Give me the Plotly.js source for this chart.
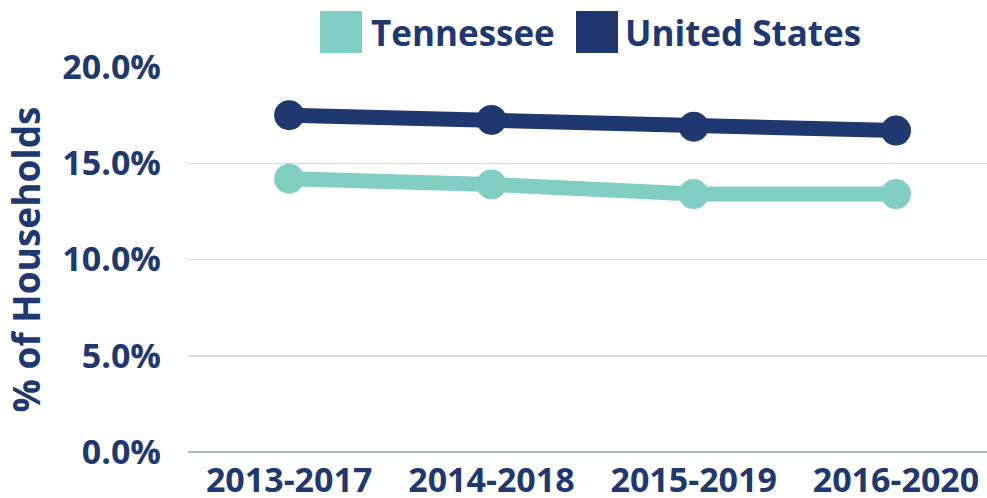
<!DOCTYPE html>
<html>
<head>
<meta charset="utf-8">
<script src="https://cdn.plot.ly/plotly-3.0.1.min.js"></script>
<style>html,body{margin:0;padding:0;background:#fff;}#chart{width:987px;height:498px;}</style>
</head>
<body>
<div id="chart"></div>
<script>
const periods = ["2013-2017", "2014-2018", "2015-2019", "2016-2020"];
const tennessee = [14.2, 13.9, 13.4, 13.4];
const unitedStates = [17.5, 17.25, 16.9, 16.7];
const yTickVals = [0, 5, 10, 15, 20];
const yTickText = ["0.0%", "5.0%", "10.0%", "15.0%", "20.0%"];
const seriesNames = ["Tennessee", "United States"];

const navy = "#1F386F";
const teal = "#80CFC2";
const font = "'Open Sans', sans-serif";

const traces = [
  {x: periods, y: tennessee, name: seriesNames[0], type: "scatter", mode: "lines+markers",
   line: {color: teal, width: 15}, marker: {color: teal, size: 30}, showlegend: false},
  {x: periods, y: unitedStates, name: seriesNames[1], type: "scatter", mode: "lines+markers",
   line: {color: navy, width: 15}, marker: {color: navy, size: 30}, showlegend: false}
];

// legend drawn with shapes + text (paper coordinates)
const px = v => (v - 188) / 799;
const py = v => (452 - v) / 385;
const shapes = [
  {type: "rect", xref: "paper", yref: "paper", x0: px(320), x1: px(362), y0: py(53), y1: py(11), fillcolor: teal, line: {width: 0}},
  {type: "rect", xref: "paper", yref: "paper", x0: px(576), x1: px(618), y0: py(53), y1: py(11), fillcolor: navy, line: {width: 0}}
];
const annotations = [
  {xref: "paper", yref: "paper", x: px(369), y: py(32), xanchor: "left", yanchor: "middle", text: seriesNames[0], showarrow: false,
   font: {family: font, size: 35, color: navy, weight: 700}},
  {xref: "paper", yref: "paper", x: px(623), y: py(32), xanchor: "left", yanchor: "middle", text: seriesNames[1], showarrow: false,
   font: {family: font, size: 35, color: navy, weight: 700}}
];

const layout = {
  width: 987, height: 498,
  margin: {l: 188, r: 0, t: 67, b: 46},
  paper_bgcolor: "#fff", plot_bgcolor: "#fff",
  showlegend: false,
  font: {family: font, color: navy},
  xaxis: {
    type: "category", range: [-0.5, 3.45],
    showgrid: false, zeroline: false, showline: false, ticks: "",
    tickfont: {family: font, size: 34, color: navy, weight: 700},
    ticklabelstandoff: 5
  },
  yaxis: {
    range: [0, 20], tickvals: yTickVals, ticktext: yTickText,
    showgrid: true, gridcolor: "#D5DAE2", gridwidth: 1.5,
    zeroline: true, zerolinecolor: "#AEB8C8", zerolinewidth: 2,
    showline: false, ticks: "",
    tickfont: {family: font, size: 34, color: navy, weight: 700},
    ticklabelstandoff: 26,
    title: {text: "% of Households", font: {family: font, size: 37, color: navy, weight: 700}, standoff: 16}
  },
  shapes: shapes,
  annotations: annotations
};

Plotly.newPlot("chart", traces, layout, {displayModeBar: false, staticPlot: true});
</script>
</body>
</html>
